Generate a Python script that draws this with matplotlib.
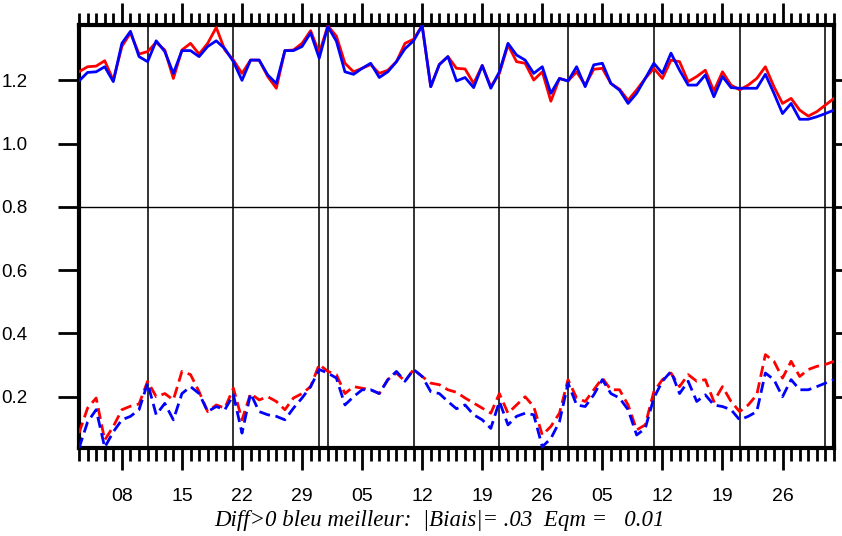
#!/usr/bin/env python3
"""Daily score comparison, red vs blue run, Jan-Mar."""

import numpy as np
import matplotlib
matplotlib.use("Agg")
import matplotlib.pyplot as plt

# daily values, day 0 = 03 Jan
red_upper = [1.227, 1.243, 1.245, 1.262, 1.200, 1.307, 1.350, 1.283, 1.291, 1.320,
             1.296, 1.206, 1.296, 1.317, 1.283, 1.317, 1.367, 1.296, 1.264, 1.222,
             1.264, 1.264, 1.212, 1.175, 1.294, 1.296, 1.317, 1.357, 1.286, 1.372,
             1.340, 1.254, 1.227, 1.238, 1.250, 1.222, 1.232, 1.259, 1.317, 1.330,
             1.373, 1.180, 1.250, 1.275, 1.238, 1.236, 1.190, 1.247, 1.180, 1.222,
             1.312, 1.259, 1.254, 1.201, 1.227, 1.134, 1.206, 1.198, 1.227, 1.185,
             1.235, 1.238, 1.190, 1.172, 1.137, 1.170, 1.206, 1.238, 1.206, 1.264,
             1.259, 1.196, 1.212, 1.232, 1.166, 1.227, 1.185, 1.170, 1.185, 1.206,
             1.243, 1.180, 1.127, 1.143, 1.106, 1.087, 1.101, 1.122, 1.143]
blue_upper = [1.198, 1.225, 1.227, 1.243, 1.196, 1.317, 1.355, 1.275, 1.259, 1.325,
              1.291, 1.222, 1.294, 1.294, 1.275, 1.307, 1.325, 1.300, 1.259, 1.200,
              1.264, 1.264, 1.217, 1.190, 1.294, 1.294, 1.307, 1.350, 1.270, 1.370,
              1.324, 1.227, 1.219, 1.238, 1.254, 1.209, 1.227, 1.259, 1.300, 1.325,
              1.373, 1.180, 1.250, 1.275, 1.198, 1.209, 1.177, 1.247, 1.175, 1.227,
              1.317, 1.280, 1.264, 1.222, 1.243, 1.159, 1.206, 1.198, 1.243, 1.180,
              1.249, 1.254, 1.190, 1.169, 1.127, 1.159, 1.206, 1.254, 1.222, 1.286,
              1.232, 1.185, 1.185, 1.217, 1.148, 1.212, 1.177, 1.175, 1.175, 1.175,
              1.219, 1.159, 1.095, 1.127, 1.077, 1.077, 1.085, 1.095, 1.106]
red_lower = [0.085, 0.164, 0.196, 0.063, 0.106, 0.159, 0.170, 0.177, 0.249, 0.200,
             0.210, 0.190, 0.280, 0.270, 0.216, 0.153, 0.174, 0.164, 0.227, 0.127,
             0.210, 0.190, 0.200, 0.185, 0.159, 0.196, 0.210, 0.232, 0.302, 0.280,
             0.270, 0.210, 0.232, 0.227, 0.222, 0.210, 0.254, 0.275, 0.249, 0.286,
             0.264, 0.243, 0.238, 0.222, 0.214, 0.196, 0.180, 0.164, 0.148, 0.210,
             0.148, 0.174, 0.200, 0.169, 0.079, 0.106, 0.148, 0.254, 0.196, 0.185,
             0.222, 0.259, 0.222, 0.222, 0.174, 0.095, 0.111, 0.216, 0.254, 0.275,
             0.232, 0.270, 0.249, 0.254, 0.185, 0.232, 0.185, 0.153, 0.174, 0.206,
             0.333, 0.312, 0.259, 0.312, 0.264, 0.286, 0.296, 0.302, 0.312]
blue_lower = [0.037, 0.120, 0.159, 0.040, 0.089, 0.127, 0.138, 0.159, 0.243, 0.143,
              0.179, 0.127, 0.210, 0.232, 0.210, 0.153, 0.169, 0.159, 0.206, 0.085,
              0.210, 0.153, 0.143, 0.138, 0.127, 0.164, 0.196, 0.232, 0.286, 0.275,
              0.259, 0.174, 0.200, 0.222, 0.222, 0.210, 0.254, 0.280, 0.249, 0.286,
              0.264, 0.216, 0.210, 0.185, 0.162, 0.174, 0.143, 0.127, 0.100, 0.185,
              0.111, 0.138, 0.148, 0.143, 0.042, 0.068, 0.121, 0.243, 0.174, 0.169,
              0.206, 0.254, 0.210, 0.196, 0.159, 0.079, 0.100, 0.196, 0.249, 0.280,
              0.210, 0.249, 0.185, 0.206, 0.174, 0.169, 0.159, 0.127, 0.138, 0.153,
              0.275, 0.254, 0.200, 0.254, 0.222, 0.222, 0.232, 0.243, 0.254]

# labelled days (weekly) and dekad separators, as day offsets
label_days = [5, 12, 19, 26, 33, 40, 47, 54, 61, 68, 75, 82]
label_text = ["08", "15", "22", "29", "05", "12", "19", "26", "05", "12", "19", "26"]
dekad_days = [8, 18, 28, 29, 39, 49, 57, 67, 77, 87]
y_ticks = [0.2, 0.4, 0.6, 0.8, 1.0, 1.2]

caption = "Diff>0 bleu meilleur:  |Biais|= .03  Eqm =   0.01"


def main():
    days = np.arange(len(red_upper))

    fig = plt.figure(figsize=(8.42, 5.36), dpi=100)
    ax = fig.add_axes([0.0938, 0.1642, 0.8967, 0.7892])

    for d in dekad_days:
        ax.axvline(d, color="#333333", lw=1.4, zorder=1)
    ax.axhline(0.8, color="black", lw=1.0, zorder=1)

    ax.plot(days, red_upper, color="#ff0000", lw=2.0, zorder=3)
    ax.plot(days, blue_upper, color="#0000ff", lw=2.0, zorder=4)
    ax.plot(days, red_lower, color="#ff0000", lw=2.0, dashes=(4, 2), zorder=3)
    ax.plot(days, blue_lower, color="#0000ff", lw=2.0, dashes=(4, 2), zorder=4)

    ax.set_xlim(0, len(days) - 1)
    ax.set_ylim(0.038, 1.375)

    ax.set_xticks(label_days)
    ax.set_xticklabels(label_text)
    ax.set_xticks(days, minor=True)
    ax.set_yticks(y_ticks)
    ax.set_yticklabels([f"{v:.1f}" for v in y_ticks])

    ax.tick_params(axis="x", which="major", direction="out", length=16, width=2,
                   top=True, bottom=True, pad=13, labelsize=14)
    ax.tick_params(axis="x", which="minor", direction="out", length=9, width=2,
                   top=True, bottom=True)
    ax.tick_params(axis="y", which="major", direction="out", length=15, width=2,
                   left=True, right=True, pad=22, labelsize=13.5)
    for lab in ax.get_xticklabels() + ax.get_yticklabels():
        lab.set_family("Liberation Sans")

    for sp in ax.spines.values():
        sp.set_linewidth(3)

    fig.text(0.522, 0.028, caption, ha="center", va="center",
             family="Liberation Serif", style="italic", fontsize=16.5)

    fig.savefig("out.png", dpi=100)
    plt.close(fig)


if __name__ == "__main__":
    main()
